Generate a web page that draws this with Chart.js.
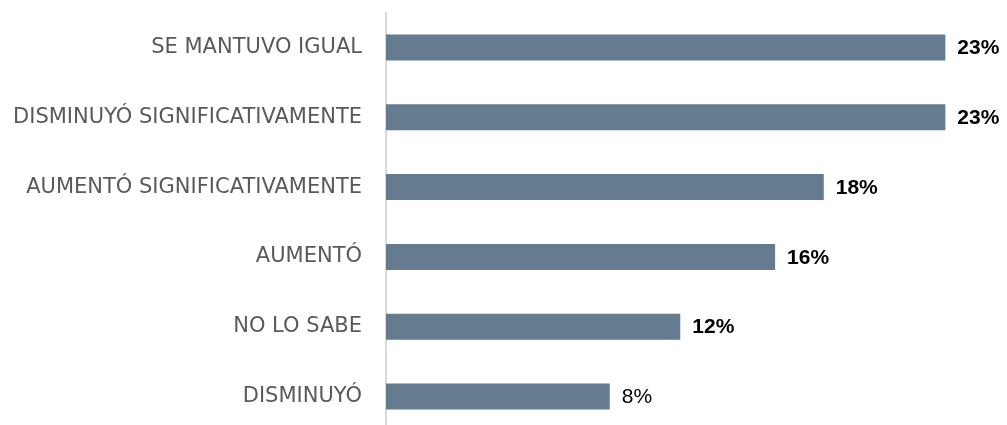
<!DOCTYPE html>
<html>
<head>
<meta charset="utf-8">
<script src="https://cdn.jsdelivr.net/npm/chart.js@4/dist/chart.umd.min.js"></script>
<style>
html,body{margin:0;padding:0;background:#fff;overflow:hidden;}
canvas{display:block;}
</style>
</head>
<body>
<canvas id="c" width="1007" height="444"></canvas>
<script>
const categories = [
  "SE MANTUVO IGUAL",
  "DISMINUYÓ SIGNIFICATIVAMENTE",
  "AUMENTÓ SIGNIFICATIVAMENTE",
  "AUMENTÓ",
  "NO LO SABE",
  "DISMINUYÓ"
];
const values = [23, 23, 18, 16, 12.1, 9.2];
const valueLabels = ["23%", "23%", "18%", "16%", "12%", "8%"];
const valueLabelWeights = ["bold", "bold", "bold", "bold", "bold", "normal"];

const valueLabelPlugin = {
  id: 'valueLabels',
  afterDatasetsDraw(chart) {
    const ctx = chart.ctx;
    const meta = chart.getDatasetMeta(0);
    ctx.save();
    ctx.fillStyle = '#000000';
    ctx.textAlign = 'left';
    ctx.textBaseline = 'middle';
    meta.data.forEach((bar, i) => {
      ctx.font = valueLabelWeights[i] + ' 21px "Liberation Sans", Arial, sans-serif';
      ctx.fillText(valueLabels[i], bar.x + 12, bar.y + 1);
    });
    ctx.restore();
  }
};

new Chart(document.getElementById('c'), {
  type: 'bar',
  data: {
    labels: categories,
    datasets: [{
      data: values,
      backgroundColor: '#657b90',
      borderWidth: 0,
      categoryPercentage: 1,
      barPercentage: 0.373
    }]
  },
  options: {
    indexAxis: 'y',
    responsive: false,
    animation: false,
    devicePixelRatio: 1,
    layout: { padding: { left: 0, right: 13, top: 12, bottom: 0 } },
    plugins: { legend: { display: false }, tooltip: { enabled: false } },
    scales: {
      x: {
        display: false,
        min: 0,
        max: 25
      },
      y: {
        grid: {
          display: true,
          drawOnChartArea: false,
          drawTicks: true,
          tickLength: 24,
          tickColor: 'rgba(0,0,0,0)'
        },
        border: { display: true, color: '#d9d9d9', width: 2 },
        ticks: {
          color: '#595959',
          padding: 0,
          font: { family: '"DejaVu Sans", sans-serif', size: 21 }
        },
        afterFit(scale) { scale.width = 386; }
      }
    }
  },
  plugins: [valueLabelPlugin]
});
</script>
</body>
</html>
